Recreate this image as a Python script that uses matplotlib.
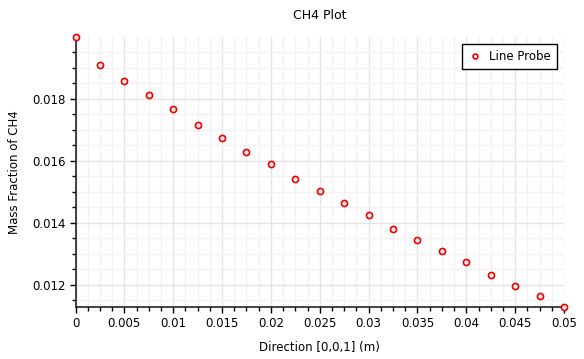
import numpy as np
import matplotlib
matplotlib.use("Agg")
import matplotlib.pyplot as plt
from matplotlib.ticker import MultipleLocator, FuncFormatter

# line probe samples along z
direction = [0.0, 0.0025, 0.005, 0.0075, 0.01, 0.0125, 0.015, 0.0175, 0.02, 0.0225,
             0.025, 0.0275, 0.03, 0.0325, 0.035, 0.0375, 0.04, 0.0425, 0.045, 0.0475, 0.05]
ch4_fraction = [0.01999, 0.01910, 0.01858, 0.01813, 0.01768, 0.01716, 0.01673, 0.01630,
                0.01589, 0.01543, 0.01502, 0.01464, 0.01425, 0.01381, 0.01344, 0.01309,
                0.01273, 0.01231, 0.01197, 0.01164, 0.01129]

plt.rcParams["font.family"] = "DejaVu Sans"

fig = plt.figure(figsize=(5.84, 3.59), dpi=100)
ax = fig.add_axes([0.1293, 0.1448, 0.8365, 0.7522])

ax.plot(direction, ch4_fraction, linestyle="none", marker="o", markersize=4.4,
        markerfacecolor="#fff0f0", markeredgecolor="#ee0000", markeredgewidth=1.2,
        label="Line Probe", clip_on=False, zorder=5)

ax.set_xlim(0, 0.05)
ax.set_ylim(min(ch4_fraction), max(ch4_fraction))

ax.xaxis.set_major_locator(MultipleLocator(0.005))
ax.xaxis.set_minor_locator(MultipleLocator(0.00125))
ax.yaxis.set_major_locator(MultipleLocator(0.002))
ax.yaxis.set_minor_locator(MultipleLocator(0.0005))


def fmt(v, pos):
    s = f"{v:.4f}".rstrip("0").rstrip(".")
    return "0" if s in ("0", "-0") else s


ax.xaxis.set_major_formatter(FuncFormatter(fmt))
ax.yaxis.set_major_formatter(FuncFormatter(fmt))

ax.grid(which="major", color="#e4e4e4", linewidth=1.0)
ax.grid(which="minor", color="#f2f2f2", linewidth=1.0)
ax.set_axisbelow(True)

for side in ("top", "right"):
    ax.spines[side].set_visible(False)
for side in ("left", "bottom"):
    ax.spines[side].set_linewidth(1.2)
    ax.spines[side].set_color("#222222")

ax.tick_params(which="major", direction="out", length=4, width=1, labelsize=8.5, pad=3)
ax.tick_params(which="minor", direction="out", length=3, width=1)

ax.set_title("CH4 Plot", fontsize=9, pad=13)
ax.set_xlabel("Direction [0,0,1] (m)", fontsize=8.5, labelpad=8)
ax.set_ylabel("Mass Fraction of CH4", fontsize=8.5, labelpad=8)

leg = ax.legend(loc="upper right", bbox_to_anchor=(0.997, 0.996), fontsize=8.5,
                fancybox=False, framealpha=1, edgecolor="black", handlelength=1.2,
                handletextpad=0.6, borderpad=0.5, markerscale=0.8)
leg.get_frame().set_linewidth(1.0)

fig.savefig("out.png", dpi=100)
